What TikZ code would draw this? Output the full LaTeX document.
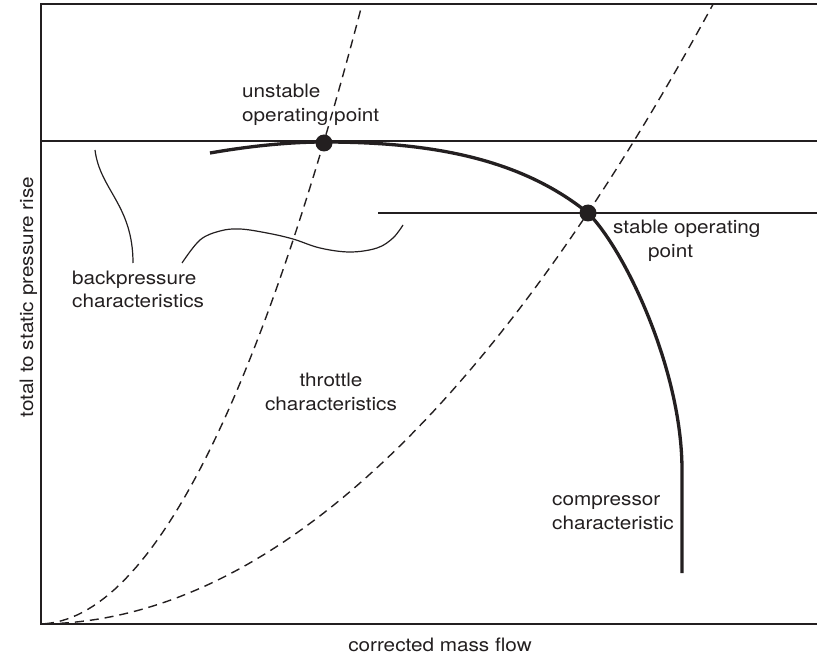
\documentclass[tikz,border=0pt]{standalone}
\usepackage{fontspec}
\setmainfont{TeX Gyre Heros}[FakeStretch=1.12]
\definecolor{ink}{RGB}{35,31,32}

\begin{document}
\begin{tikzpicture}[%
    x=1pt,
    y=-1pt,
    draw=ink,
    txt/.style={%
      inner sep=0pt,
      text=ink,
      font=\fontsize{18.5}{24}\selectfont
    },
    opdot/.style={%
      circle,
      fill=ink,
      inner sep=0pt,
      minimum size=17pt
    },
    throttle/.style={dash pattern=on 9pt off 6pt, line width=1.4pt},
    backline/.style={line width=1.5pt},
    compline/.style={line width=3.3pt},
    leader/.style={line width=1.2pt}
  ]
    \useasboundingbox (0,0) rectangle (817,655);

    % frame and axes
    \draw[line width=1.7pt] (817,4) -- (41,4) -- (41,624) -- (817,624);

    % backpressure characteristics
    \draw[backline] (41,141) -- (817,141);
    \draw[backline] (378,213) -- (817,213);

    % throttle characteristics
    \draw[throttle] plot[domain=45:362, samples=60] (\x, {624-59*((\x-38)/100)^2});
    \draw[throttle] plot[domain=45:713, samples=80] (\x, {624-13.6*((\x-38)/100)^2});

    % compressor characteristic
    \draw[compline] (210,153) .. controls (250,146) and (290,142) .. (324,142)
                              .. controls (430,142) and (520,158) .. (588,213)
                              .. controls (625,250) and (682,370) .. (682,470)
                              -- (682,573);

    \node[opdot] (unstable) at (324,143) {};
    \node[opdot] (stable)   at (588,213) {};

    % base = baseline of the last line
    \node[txt, anchor=base west, align=left]   (unstabletxt) at (242,122) {unstable\\operating point};
    \node[txt, anchor=base west, align=left]   (stabletxt)   at (613,258) {stable operating\\\hspace*{35pt}point};
    \node[txt, anchor=base west, align=left]   (backtxt)     at (72,308)  {backpressure\\characteristics};
    \node[txt, anchor=base, align=center]      (throttletxt) at (331,410) {throttle\\characteristics};
    \node[txt, anchor=base west, align=left]   (comptxt)     at (552,529) {compressor\\characteristic};
    \node[txt, anchor=base]                    (xlabel)      at (440,651) {corrected mass flow};
    \node[txt, anchor=base, rotate=90]         (ylabel)      at (33,297)  {total to static pressure rise};

    % leaders from the label to the backpressure lines
    \coordinate (lead1) at (95,150);
    \coordinate (lead2) at (403,225);
    \coordinate (foot1) at (133,263);
    \coordinate (foot2) at (182,263);
    \draw[leader] (foot1) .. controls (133,205) and (100,190) .. (lead1);
    \draw[leader] plot[smooth, tension=0.6] coordinates {(foot2) (200,240) (220,231) (240,229) (267,233)
                                                        (293,239) (320,248) (350,252) (377,248) (393,238) (lead2)};
\end{tikzpicture}
\end{document}
